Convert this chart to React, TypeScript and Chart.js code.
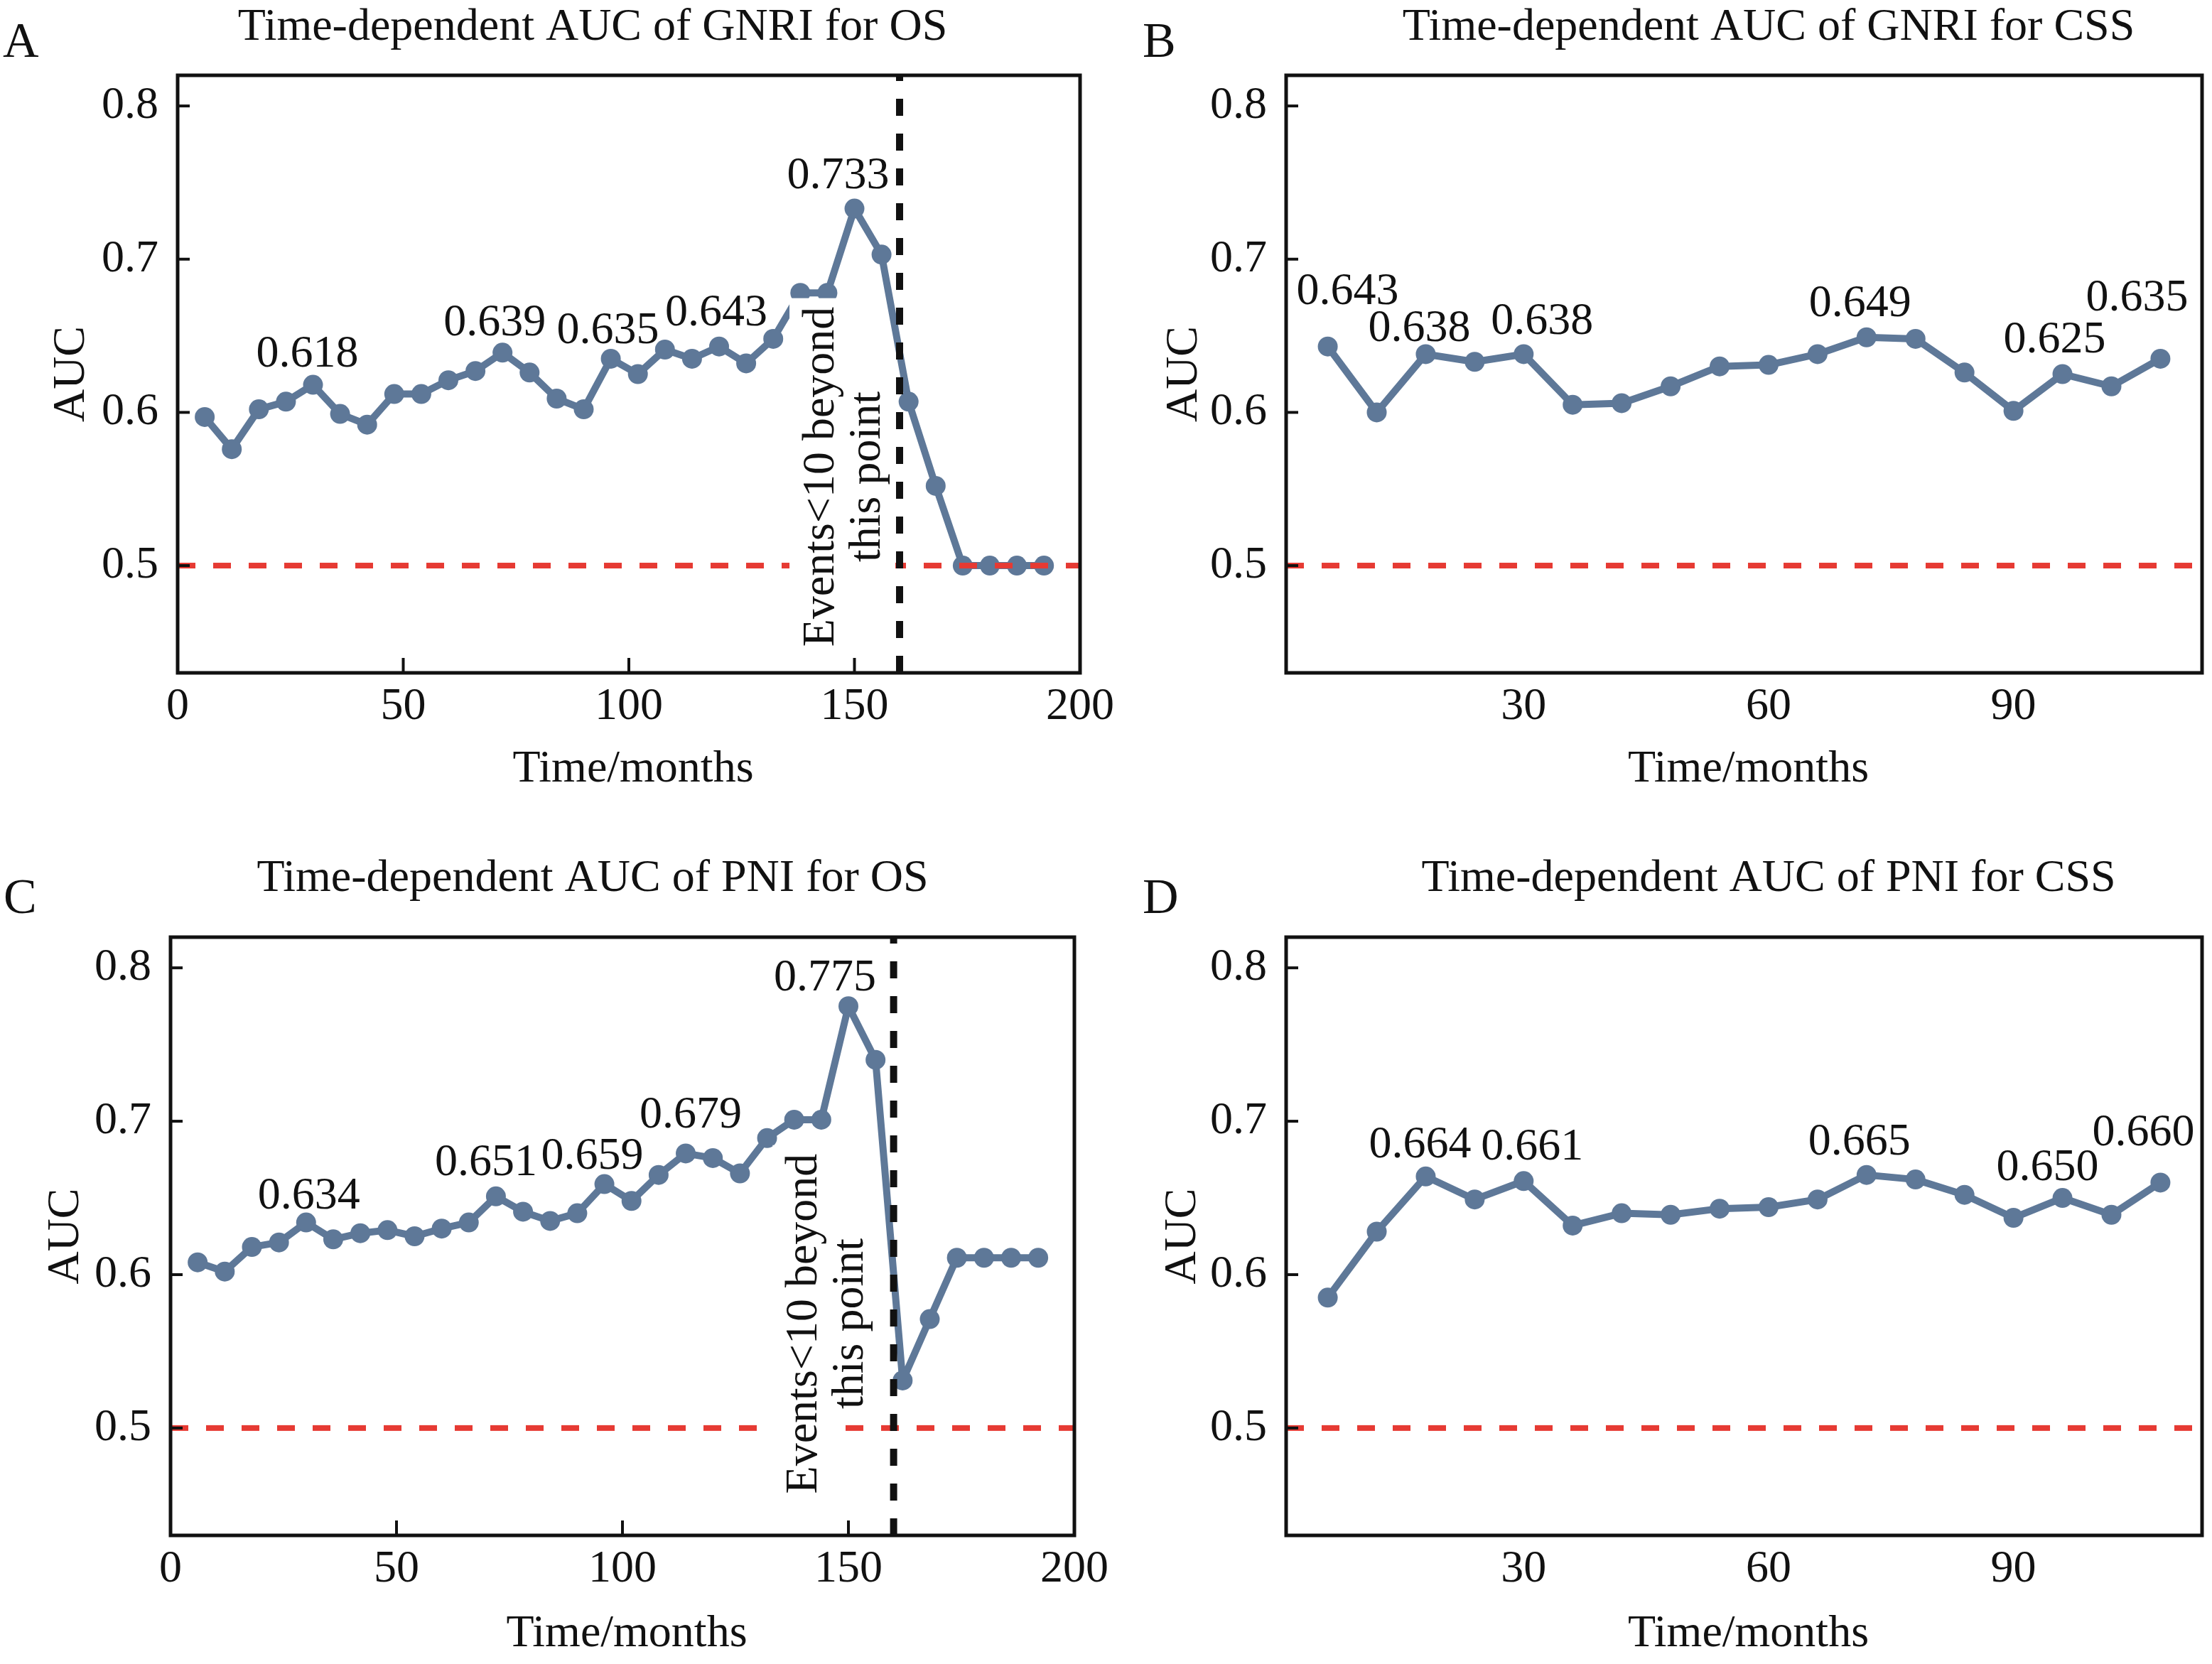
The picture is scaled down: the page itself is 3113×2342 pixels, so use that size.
import React, { useEffect, useRef } from 'react';
import { Chart, registerables } from 'chart.js';

Chart.register(...registerables);

// ---------------- data ----------------
const MONTHS_OS = [6, 12, 18, 24, 30, 36, 42, 48, 54, 60, 66, 72, 78, 84, 90, 96, 102, 108, 114, 120, 126, 132, 138, 144, 150, 156, 162, 168, 174, 180, 186, 192];
const MONTHS_CSS = [6, 12, 18, 24, 30, 36, 42, 48, 54, 60, 66, 72, 78, 84, 90, 96, 102, 108];

const AUC_GNRI_OS = [0.597, 0.576, 0.602, 0.607, 0.618, 0.599, 0.592, 0.612, 0.612, 0.621, 0.627, 0.639, 0.626, 0.609, 0.602, 0.635, 0.625, 0.641, 0.635, 0.643, 0.632, 0.648, 0.678, 0.678, 0.733, 0.703, 0.607, 0.552, 0.5, 0.5, 0.5, 0.5];
const AUC_GNRI_CSS = [0.643, 0.600, 0.638, 0.633, 0.638, 0.605, 0.606, 0.617, 0.630, 0.631, 0.638, 0.649, 0.648, 0.626, 0.601, 0.625, 0.617, 0.635];
const AUC_PNI_OS = [0.608, 0.602, 0.618, 0.621, 0.634, 0.623, 0.627, 0.629, 0.625, 0.630, 0.634, 0.651, 0.641, 0.635, 0.640, 0.659, 0.648, 0.665, 0.679, 0.676, 0.666, 0.689, 0.701, 0.701, 0.775, 0.740, 0.531, 0.571, 0.611, 0.611, 0.611, 0.611];
const AUC_PNI_CSS = [0.585, 0.628, 0.664, 0.649, 0.661, 0.632, 0.640, 0.639, 0.643, 0.644, 0.649, 0.665, 0.662, 0.652, 0.637, 0.650, 0.639, 0.660];

// indices of the points whose value is printed
const LABELED_GNRI_OS = [4, 11, 15, 19, 24];
const LABELED_GNRI_CSS = [0, 2, 4, 11, 15, 17];
const LABELED_PNI_OS = [4, 11, 15, 18, 24];
const LABELED_PNI_CSS = [2, 4, 11, 15, 17];

const X_TICKS_OS = [0, 50, 100, 150, 200];
const X_TICKS_CSS = [30, 60, 90];
const Y_TICKS = [0.5, 0.6, 0.7, 0.8];

const REFERENCE_AUC = 0.5;
const EVENTS_CUTOFF_MONTH = 160;
const CUTOFF_NOTE = ['Events<10 beyond', 'this point'];

const TITLE_GNRI_OS = 'Time-dependent AUC of GNRI for OS';
const TITLE_GNRI_CSS = 'Time-dependent AUC of GNRI for CSS';
const TITLE_PNI_OS = 'Time-dependent AUC of PNI for OS';
const TITLE_PNI_CSS = 'Time-dependent AUC of PNI for CSS';
const X_TITLE = 'Time/months';
const Y_TITLE = 'AUC';

// ---------------- style ----------------
const FONT_FAMILY = '"Liberation Serif", "Times New Roman", serif';
const FONT_SIZE = 64;
const TEXT = '#111111';
const BLUE = '#5e7898';
const RED = '#e63a33';

// label pixel offsets (dx, dy of baseline from point centre)
const OFFS_GNRI_OS = [[-8, -26], [-11, -24], [-4, -22], [-4, -30], [-23, -29]];
const OFFS_GNRI_CSS = [[28, -60], [-9, -18], [26, -28], [-9, -30], [-11, -31], [-33, -68]];
const OFFS_PNI_OS = [[4, -20], [-14, -30], [-17, -22], [7, -36], [-33, -22]];
const OFFS_PNI_CSS = [[-8, -27], [12, -30], [-10, -29], [-21, -25], [-24, -52]];

type Spec = {
  key: string;
  box: { left: number; top: number; w: number; h: number };
  area: { left: number; right: number; top: number; bottom: number };
  months: number[];
  auc: number[];
  labeled: number[];
  offsets: number[][];
  xMin: number;
  xMax: number;
  xTicks: number[];
  xTickMarks: boolean;
  title: string;
  titleX: number;
  titleY: number;
  letter: string;
  letterX: number;
  letterY: number;
  yTitleX: number;
  xTitleY: number;
  note?: { x: number; y: number };
};

const SPECS: Spec[] = [
  {
    key: 'A', box: { left: 0, top: 0, w: 1700, h: 1170 },
    area: { left: 250, right: 1520, top: 106, bottom: 947 },
    months: MONTHS_OS, auc: AUC_GNRI_OS, labeled: LABELED_GNRI_OS, offsets: OFFS_GNRI_OS,
    xMin: 0, xMax: 200, xTicks: X_TICKS_OS, xTickMarks: true,
    title: TITLE_GNRI_OS, titleX: 834, titleY: 56, letter: 'A', letterX: 4, letterY: 80,
    yTitleX: 118, xTitleY: 1100, note: { x: 155.6, y: 0.558 },
  },
  {
    key: 'C', box: { left: 0, top: 1170, w: 1700, h: 1172 },
    area: { left: 240, right: 1512, top: 149, bottom: 991 },
    months: MONTHS_OS, auc: AUC_PNI_OS, labeled: LABELED_PNI_OS, offsets: OFFS_PNI_OS,
    xMin: 0, xMax: 200, xTicks: X_TICKS_OS, xTickMarks: true,
    title: TITLE_PNI_OS, titleX: 834, titleY: 84, letter: 'C', letterX: 5, letterY: 115,
    yTitleX: 110, xTitleY: 1147, note: { x: 153.2, y: 0.568 },
  },
  {
    key: 'B', box: { left: 1560, top: 0, w: 1553, h: 1170 },
    area: { left: 250, right: 1547, top: 106, bottom: 947 },
    months: MONTHS_CSS, auc: AUC_GNRI_CSS, labeled: LABELED_GNRI_CSS, offsets: OFFS_GNRI_CSS,
    xMin: 0.9, xMax: 113.1, xTicks: X_TICKS_CSS, xTickMarks: false,
    title: TITLE_GNRI_CSS, titleX: 929, titleY: 56, letter: 'B', letterX: 48, letterY: 80,
    yTitleX: 124, xTitleY: 1100,
  },
  {
    key: 'D', box: { left: 1560, top: 1170, w: 1553, h: 1172 },
    area: { left: 250, right: 1547, top: 149, bottom: 991 },
    months: MONTHS_CSS, auc: AUC_PNI_CSS, labeled: LABELED_PNI_CSS, offsets: OFFS_PNI_CSS,
    xMin: 0.9, xMax: 113.1, xTicks: X_TICKS_CSS, xTickMarks: false,
    title: TITLE_PNI_CSS, titleX: 929, titleY: 84, letter: 'D', letterX: 48, letterY: 115,
    yTitleX: 122, xTitleY: 1147,
  },
];

const font = (size: number) => `${size}px ${FONT_FAMILY}`;

function panelPlugin(s: Spec) {
  return {
    id: 'panel' + s.key,
    afterDatasetsDraw(chart: any) {
      const { ctx, chartArea: a, scales } = chart;
      const x = scales.x;
      const y = scales.y;
      ctx.save();

      // reference line AUC = 0.5
      const yRef = y.getPixelForValue(REFERENCE_AUC);
      ctx.strokeStyle = RED;
      ctx.lineWidth = 8;
      ctx.setLineDash([25, 25]);
      ctx.beginPath();
      ctx.moveTo(a.left, yRef);
      ctx.lineTo(a.right, yRef);
      ctx.stroke();

      // events cut-off note + vertical line
      if (s.note) {
        ctx.font = font(FONT_SIZE);
        const bx2 = x.getPixelForValue(s.note.x);
        const cy = y.getPixelForValue(s.note.y);
        CUTOFF_NOTE.forEach((line, i) => {
          const bx = bx2 - (CUTOFF_NOTE.length - 1 - i) * 65;
          const w = ctx.measureText(line).width;
          ctx.fillStyle = '#ffffff';
          ctx.fillRect(bx - 62, cy - w / 2 - 12, 84, w + 24);
        });
        ctx.fillStyle = TEXT;
        CUTOFF_NOTE.forEach((line, i) => {
          const bx = bx2 - (CUTOFF_NOTE.length - 1 - i) * 65;
          ctx.save();
          ctx.translate(bx, cy);
          ctx.rotate(-Math.PI / 2);
          ctx.textAlign = 'center';
          ctx.textBaseline = 'alphabetic';
          ctx.fillText(line, 0, 0);
          ctx.restore();
        });
        const xc = x.getPixelForValue(EVENTS_CUTOFF_MONTH);
        ctx.strokeStyle = TEXT;
        ctx.lineWidth = 10;
        ctx.setLineDash([24, 25]);
        ctx.beginPath();
        ctx.moveTo(xc, a.bottom);
        ctx.lineTo(xc, a.top);
        ctx.stroke();
      }
      ctx.setLineDash([]);

      // value labels
      ctx.font = font(FONT_SIZE);
      ctx.fillStyle = TEXT;
      ctx.textAlign = 'center';
      ctx.textBaseline = 'alphabetic';
      s.labeled.forEach((idx, k) => {
        const px = x.getPixelForValue(s.months[idx]);
        const py = y.getPixelForValue(s.auc[idx]);
        const [dx, dy] = s.offsets[k];
        ctx.fillText(s.auc[idx].toFixed(3), px + dx, py + dy);
      });

      // frame
      ctx.strokeStyle = TEXT;
      ctx.lineWidth = 5;
      ctx.strokeRect(a.left, a.top, a.right - a.left, a.bottom - a.top);

      // inward ticks
      ctx.lineWidth = 4;
      y.ticks.forEach((t: any) => {
        const ty = y.getPixelForValue(t.value);
        ctx.beginPath();
        ctx.moveTo(a.left, ty);
        ctx.lineTo(a.left + 17, ty);
        ctx.stroke();
      });
      if (s.xTickMarks) {
        x.ticks.forEach((t: any) => {
          const tx = x.getPixelForValue(t.value);
          ctx.beginPath();
          ctx.moveTo(tx, a.bottom);
          ctx.lineTo(tx, a.bottom - 21);
          ctx.stroke();
        });
      }
      ctx.restore();
    },
    afterDraw(chart: any) {
      const { ctx, chartArea: a } = chart;
      ctx.save();
      ctx.fillStyle = TEXT;
      ctx.textBaseline = 'alphabetic';
      // title
      ctx.font = font(FONT_SIZE);
      ctx.textAlign = 'center';
      ctx.fillText(s.title, s.titleX, s.titleY);
      // x title
      ctx.fillText(X_TITLE, (a.left + a.right) / 2 + 6, s.xTitleY);
      // y title
      ctx.save();
      ctx.translate(s.yTitleX, (a.top + a.bottom) / 2);
      ctx.rotate(-Math.PI / 2);
      ctx.fillText(Y_TITLE, 0, 0);
      ctx.restore();
      // panel letter
      ctx.font = font(70);
      ctx.textAlign = 'left';
      ctx.fillText(s.letter, s.letterX, s.letterY);
      ctx.restore();
    },
  };
}

function makeConfig(s: Spec): any {
  const tickFont = { family: FONT_FAMILY, size: FONT_SIZE };
  return {
    type: 'line',
    data: {
      datasets: [
        {
          data: s.months.map((m, i) => ({ x: m, y: s.auc[i] })),
          borderColor: BLUE,
          backgroundColor: BLUE,
          pointBackgroundColor: BLUE,
          pointBorderColor: BLUE,
          borderWidth: 10,
          pointRadius: 14,
          pointHoverRadius: 14,
          pointBorderWidth: 0,
          borderJoinStyle: 'round',
          tension: 0,
        },
      ],
    },
    options: {
      animation: false,
      responsive: false,
      devicePixelRatio: 1,
      events: [],
      layout: { padding: { left: 0, bottom: 0, top: s.area.top, right: s.box.w - s.area.right } },
      plugins: { legend: { display: false }, tooltip: { enabled: false }, title: { display: false } },
      scales: {
        x: {
          type: 'linear',
          min: s.xMin,
          max: s.xMax,
          grid: { display: false, drawTicks: false },
          border: { display: false },
          ticks: { font: tickFont, color: TEXT, padding: 10, autoSkip: false, maxRotation: 0, minRotation: 0, callback: (v: any) => String(v) },
          afterBuildTicks: (sc: any) => { sc.ticks = s.xTicks.map((v) => ({ value: v })); },
          afterFit: (sc: any) => { sc.height = s.box.h - s.area.bottom; },
        },
        y: {
          type: 'linear',
          min: 0.43,
          max: 0.82,
          grid: { display: false, drawTicks: false },
          border: { display: false },
          ticks: { font: tickFont, color: TEXT, padding: 27, callback: (v: any) => Number(v).toFixed(1) },
          afterBuildTicks: (sc: any) => { sc.ticks = Y_TICKS.map((v) => ({ value: v })); },
          afterFit: (sc: any) => { sc.width = s.area.left; },
        },
      },
    },
    plugins: [panelPlugin(s)],
  };
}

function Panel({ spec }: { spec: Spec }) {
  const ref = useRef<HTMLCanvasElement>(null);
  useEffect(() => {
    const chart = new Chart(ref.current as HTMLCanvasElement, makeConfig(spec));
    return () => chart.destroy();
  }, [spec]);
  const { left, top, w, h } = spec.box;
  return (
    <div style={{ position: 'absolute', left, top, width: w, height: h }}>
      <canvas ref={ref} width={w} height={h} style={{ display: 'block', width: w, height: h }} />
    </div>
  );
}

export default function App() {
  return (
    <div style={{ position: 'absolute', left: 0, top: 0, width: 3113, height: 2342, background: '#ffffff', overflow: 'hidden' }}>
      {SPECS.map((s) => (
        <Panel key={s.key} spec={s} />
      ))}
    </div>
  );
}
